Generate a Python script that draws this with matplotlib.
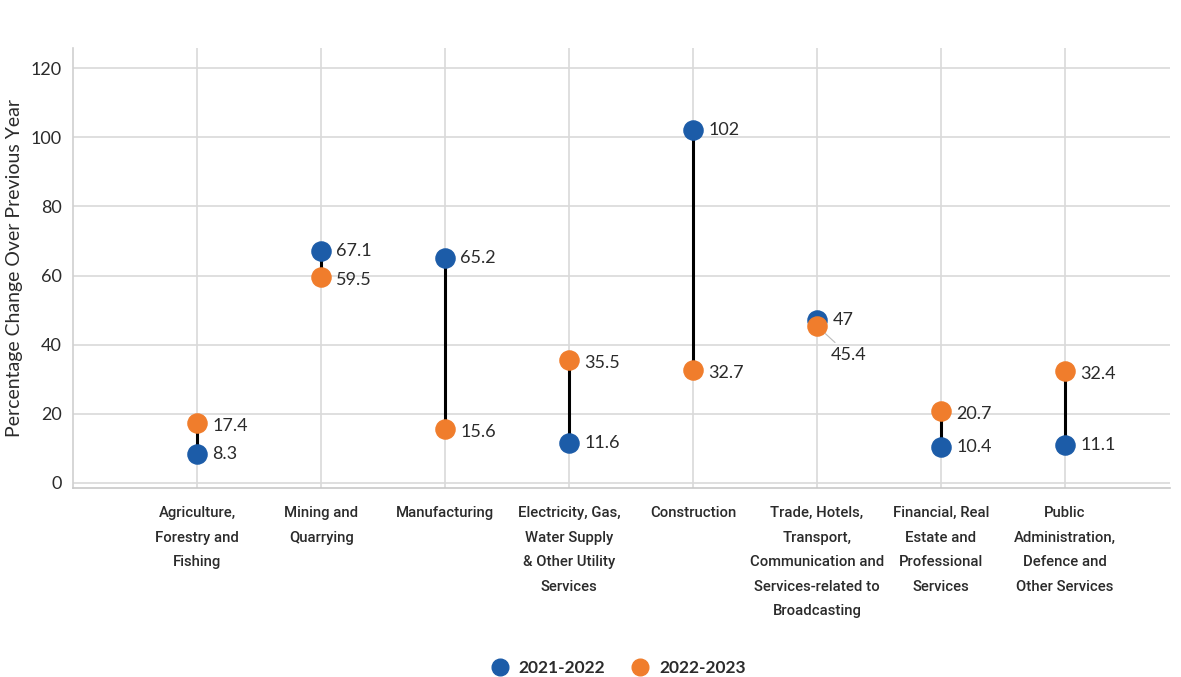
import matplotlib
matplotlib.use("Agg")
import matplotlib.pyplot as plt
from matplotlib import font_manager
from matplotlib.lines import Line2D

# sectors and growth values (percent change over previous year)
sectors = [
    "Agriculture,\nForestry and\nFishing",
    "Mining and\nQuarrying",
    "Manufacturing",
    "Electricity, Gas,\nWater Supply\n& Other Utility\nServices",
    "Construction",
    "Trade, Hotels,\nTransport,\nCommunication and\nServices-related to\nBroadcasting",
    "Financial, Real\nEstate and\nProfessional\nServices",
    "Public\nAdministration,\nDefence and\nOther Services",
]
y2122 = [8.3, 67.1, 65.2, 11.6, 102, 47, 10.4, 11.1]
y2223 = [17.4, 59.5, 15.6, 35.5, 32.7, 45.4, 20.7, 32.4]
lbl2122 = ["8.3", "67.1", "65.2", "11.6", "102", "47", "10.4", "11.1"]
lbl2223 = ["17.4", "59.5", "15.6", "35.5", "32.7", "45.4", "20.7", "32.4"]
yticks = [0, 20, 40, 60, 80, 100, 120]

blue = "#1c5ca8"
orange = "#f07d2c"
txt = "#2b2b2b"

# no condensed face is installed, so a small Roboto stands in for it
cat_font = font_manager.FontProperties(family="Roboto", size=10.7, weight="medium")

fig = plt.figure(figsize=(11.81, 6.77), dpi=100)
ax = fig.add_axes([0.062, 0.279, 0.929, 0.650])

xs = list(range(len(sectors)))
for i in xs:
    ax.plot([i, i], [y2122[i], y2223[i]], color="black", lw=2.2, zorder=2)
ax.scatter(xs, y2122, s=190, color=blue, zorder=3)
ax.scatter(xs, y2223, s=190, color=orange, zorder=3)

for i in xs:
    ax.annotate(lbl2122[i], (i, y2122[i]), xytext=(11, 0), textcoords="offset points",
                ha="left", va="center", fontsize=13, color=txt, family="Lato")
    if i == 5:
        # label pushed below with a small leader line
        ax.annotate(lbl2223[i], (i, y2223[i]), xytext=(10, -21), textcoords="offset points",
                    ha="left", va="center", fontsize=13, color=txt, family="Lato",
                    arrowprops=dict(arrowstyle="-", color="#bbbbbb", lw=0.8,
                                    shrinkA=2, shrinkB=8))
    else:
        ax.annotate(lbl2223[i], (i, y2223[i]), xytext=(11, -2), textcoords="offset points",
                    ha="left", va="center", fontsize=13, color=txt, family="Lato")

ax.set_xlim(-1, 7.85)
ax.set_ylim(-1.5, 125.8)
ax.set_yticks(yticks)
ax.set_yticklabels([str(v) for v in yticks], fontsize=13, color=txt, family="Lato")
ax.set_xticks(xs)
ax.set_xticklabels(sectors, color=txt, fontproperties=cat_font, va="top", linespacing=1.95)
ax.tick_params(axis="both", length=0)
ax.tick_params(axis="x", pad=13)
ax.tick_params(axis="y", pad=8)
ax.grid(True, color="#d9d9d9", lw=1.2)
ax.set_axisbelow(True)
for s in ["top", "right"]:
    ax.spines[s].set_visible(False)
ax.spines["left"].set_color("#d0d0d0")
ax.spines["bottom"].set_color("#c8c8c8")
ax.spines["left"].set_linewidth(1.2)
ax.spines["bottom"].set_linewidth(1.2)

ax.set_ylabel("Percentage Change Over Previous Year", fontsize=14, color=txt,
              family="Lato", labelpad=6)

handles = [
    Line2D([], [], marker="o", ls="", color=blue, markersize=12),
    Line2D([], [], marker="o", ls="", color=orange, markersize=12),
]
fig.legend(handles, ["2021-2022", "2022-2023"], loc="center", bbox_to_anchor=(0.52, 0.013),
           ncol=2, frameon=False, handletextpad=0.1, columnspacing=1.0,
           prop={"family": "Lato", "weight": "bold", "size": 12.5})
for t in fig.legends[0].get_texts():
    t.set_color(txt)

fig.savefig("out.png", dpi=100, facecolor="white")
